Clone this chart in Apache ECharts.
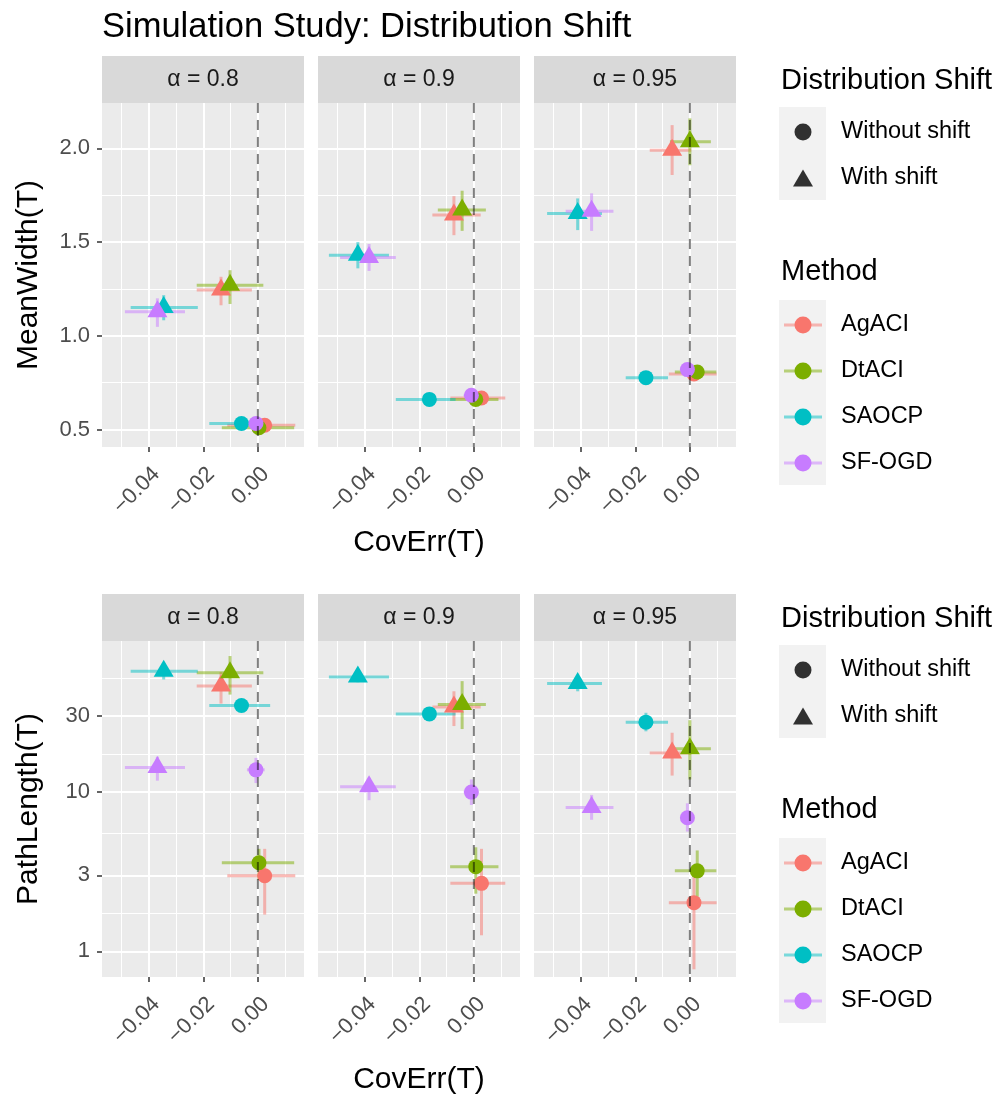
<!DOCTYPE html>
<html>
<head>
<meta charset="utf-8">
<script src="https://cdn.jsdelivr.net/npm/echarts@6/dist/echarts.min.js"></script>
<style>
  html, body { margin: 0; padding: 0; background: #fff; }
  #main { width: 1000px; height: 1099px; }
</style>
</head>
<body>
<div id="main"></div>
<script>
// --- data ---
var methods = ['AgACI', 'DtACI', 'SAOCP', 'SF-OGD'];
var colors = ['#F8766D', '#7CAE00', '#00BFC4', '#C77CFF'];
var alphas = ['0.8', '0.9', '0.95'];
var shifts = ['Without shift', 'With shift'];

// [alpha][method] -> [mean, lower, upper]
var covErrWithout = [
  [[0.0025, -0.0112, 0.0137], [0.0004, -0.0132, 0.0133], [-0.0060, -0.0178, 0.0045], [-0.0007, -0.0040, 0.0025]],
  [[0.0028, -0.0086, 0.0115], [0.0007, -0.0087, 0.0090], [-0.0163, -0.0286, -0.0067], [-0.0009, -0.0037, 0.0008]],
  [[0.0015, -0.0077, 0.0098], [0.0027, -0.0055, 0.0097], [-0.0161, -0.0235, -0.0080], [-0.0009, -0.0020, 0.0005]]
];
var covErrWith = [
  [[-0.0135, -0.0224, -0.0022], [-0.0102, -0.0224, 0.0020], [-0.0345, -0.0466, -0.0220], [-0.0368, -0.0487, -0.0267]],
  [[-0.0073, -0.0152, 0.0025], [-0.0043, -0.0132, 0.0044], [-0.0425, -0.0531, -0.0311], [-0.0384, -0.0490, -0.0286]],
  [[-0.0065, -0.0147, 0.0005], [0.0000, -0.0073, 0.0077], [-0.0411, -0.0523, -0.0322], [-0.0360, -0.0455, -0.0280]]
];
var widthWithout = [
  [[0.523, 0.515, 0.531], [0.510, 0.502, 0.518], [0.532, 0.525, 0.539], [0.532, 0.525, 0.539]],
  [[0.668, 0.660, 0.676], [0.661, 0.653, 0.669], [0.661, 0.654, 0.668], [0.683, 0.676, 0.690]],
  [[0.797, 0.789, 0.805], [0.807, 0.799, 0.815], [0.777, 0.770, 0.784], [0.820, 0.813, 0.827]]
];
var widthWith = [
  [[1.245, 1.163, 1.315], [1.270, 1.170, 1.350], [1.151, 1.083, 1.217], [1.128, 1.048, 1.200]],
  [[1.644, 1.537, 1.745], [1.671, 1.560, 1.774], [1.430, 1.360, 1.500], [1.418, 1.346, 1.490]],
  [[1.990, 1.858, 2.124], [2.035, 1.910, 2.160], [1.653, 1.564, 1.733], [1.665, 1.560, 1.760]]
];
var pathWithout = [
  [[2.98, 1.70, 4.4], [3.6, 2.8, 4.4], [35.0, 33.0, 37.0], [13.8, 11.4, 16.4]],
  [[2.67, 1.26, 4.4], [3.4, 2.3, 4.5], [31.0, 29.5, 32.5], [10.0, 8.3, 12.0]],
  [[2.02, 0.77, 3.3], [3.2, 2.2, 4.3], [27.5, 24.1, 31.5], [6.9, 5.65, 8.5]]
];
var pathWith = [
  [[46.4, 36.0, 56.8], [56.2, 41.0, 71.6], [57.5, 51.0, 63.0], [14.3, 11.8, 16.7]],
  [[34.3, 26.0, 43.0], [35.5, 24.9, 49.8], [52.9, 49.0, 57.0], [10.8, 8.9, 12.3]],
  [[17.6, 12.7, 23.6], [18.7, 12.0, 28.3], [48.2, 43.0, 52.0], [8.0, 6.7, 9.6]]
];

var covErrTicks = [-0.04, -0.02, 0];
var covErrMinor = [-0.05, -0.03, -0.01, 0.01];
var widthTicks = [0.5, 1.0, 1.5, 2.0];
var widthMinor = [0.75, 1.25, 1.75];
var pathTicks = [1, 3, 10, 30];
var pathMinor = [1.73, 5.48, 17.3, 52];

// --- layout ---
var font = '"Liberation Sans", Arial, Helvetica, sans-serif';
var colLeft = [102, 318, 534];
var panelW = 202;
var rowTop = [103, 641];
var rowH = [344, 336];
var stripH = 47;
var xRange = [-0.0571, 0.0169];
var rowRange = [[0.407, 2.242], [0.689, 89]];
var rowName = ['MeanWidth(T)', 'PathLength(T)'];
var rowTicks = [widthTicks, pathTicks];
var rowMinor = [widthMinor, pathMinor];
var rowWith = [widthWith, pathWith];
var rowWithout = [widthWithout, pathWithout];
var xNameGap = [81, 88];

var myChart = echarts.init(document.getElementById('main'), null, { renderer: 'canvas' });

function fmtCov(v) {
    if (Math.abs(v) < 1e-9) return '0.00';
    return (v < 0 ? '\u2212' : '') + Math.abs(v).toFixed(2);
}

function renderInterval(params, api) {
    var x = api.value(0), y = api.value(1);
    var h0 = api.coord([api.value(2), y]), h1 = api.coord([api.value(3), y]);
    var v0 = api.coord([x, api.value(4)]), v1 = api.coord([x, api.value(5)]);
    var st = { stroke: api.visual('color'), lineWidth: 3, opacity: 0.5 };
    return {
        type: 'group',
        children: [
            { type: 'line', shape: { x1: h0[0], y1: h0[1], x2: h1[0], y2: h1[1] }, style: st },
            { type: 'line', shape: { x1: v0[0], y1: v0[1], x2: v1[0], y2: v1[1] }, style: st }
        ]
    };
}

function renderZero(params, api) {
    var cs = params.coordSys;
    var x = api.coord([api.value(0), api.value(1)])[0];
    return {
        type: 'line',
        shape: { x1: x, y1: cs.y, x2: x, y2: cs.y + cs.height },
        style: { stroke: 'rgba(0,0,0,0.5)', lineWidth: 2, lineDash: [10, 7] }
    };
}

var grids = [], xAxes = [], yAxes = [], series = [], graphics = [];

for (var r = 0; r < 2; r++) {
    for (var c = 0; c < 3; c++) {
        var g = r * 3 + c;
        grids.push({
            left: colLeft[c], top: rowTop[r], width: panelW, height: rowH[r],
            show: true, backgroundColor: '#ebebeb', borderWidth: 0, containLabel: false,
            outerBoundsMode: 'none'
        });
        xAxes.push({
            type: 'value', gridIndex: g, min: xRange[0], max: xRange[1], position: 'bottom',
            name: c === 1 ? 'CovErr(T)' : '', nameLocation: 'middle', nameGap: xNameGap[r],
            nameTextStyle: { fontSize: 30, color: '#000', fontFamily: font },
            axisLine: { show: false, onZero: false },
            axisTick: { show: true, length: 5, customValues: covErrTicks, lineStyle: { color: '#333', width: 1.5 } },
            axisLabel: {
                show: true, customValues: covErrTicks, rotate: 45, align: 'right', verticalAlign: 'top',
                margin: 16, fontSize: 22, color: '#4d4d4d', fontFamily: font, formatter: fmtCov
            },
            splitLine: { show: true, lineStyle: { color: '#fff', width: 2 } }
        });
        var yAx = {
            type: r === 0 ? 'value' : 'log', gridIndex: g, min: rowRange[r][0], max: rowRange[r][1],
            position: 'left',
            name: c === 0 ? rowName[r] : '', nameLocation: 'middle', nameGap: 58,
            nameTextStyle: { fontSize: 30, color: '#000', fontFamily: font },
            axisLine: { show: false, onZero: false },
            axisTick: { show: c === 0, length: 5, customValues: rowTicks[r], lineStyle: { color: '#333', width: 1.5 } },
            axisLabel: {
                show: c === 0, customValues: rowTicks[r], margin: 12, fontSize: 22, color: '#4d4d4d', fontFamily: font,
                formatter: r === 0 ? function (v) { return v.toFixed(1); } : function (v) { return String(v); }
            },
            splitLine: { show: true, lineStyle: { color: '#fff', width: 2 } }
        };
        if (r === 1) yAx.logBase = 10;
        yAxes.push(yAx);

        // interval bars
        for (var k = 0; k < 4; k++) {
            var cw = covErrWithout[c][k], cs = covErrWith[c][k];
            var yw = rowWithout[r][c][k], ys = rowWith[r][c][k];
            series.push({
                type: 'custom', name: methods[k] + ' interval', xAxisIndex: g, yAxisIndex: g,
                z: 2, clip: true, silent: true,
                itemStyle: { color: colors[k] },
                renderItem: renderInterval,
                data: [
                    [cw[0], yw[0], cw[1], cw[2], yw[1], yw[2]],
                    [cs[0], ys[0], cs[1], cs[2], ys[1], ys[2]]
                ]
            });
        }
        // points
        for (var k2 = 0; k2 < 4; k2++) {
            var a = covErrWithout[c][k2], b = covErrWith[c][k2];
            series.push({
                type: 'scatter', name: methods[k2], xAxisIndex: g, yAxisIndex: g,
                z: 3, silent: true, symbol: 'circle', symbolSize: 15,
                itemStyle: { color: colors[k2], opacity: 1 },
                data: [
                    { value: [a[0], rowWithout[r][c][k2][0]], symbol: 'circle', symbolSize: 15 },
                    { value: [b[0], rowWith[r][c][k2][0]], symbol: 'triangle', symbolSize: [20, 17], symbolOffset: [0, -3] }
                ]
            });
        }
        // dashed zero line
        series.push({
            type: 'custom', name: 'zero', xAxisIndex: g, yAxisIndex: g, z: 5, silent: true,
            renderItem: renderZero, data: [[0, 1]]
        });

        // strip
        graphics.push({
            type: 'rect', silent: true, z: 0,
            shape: { x: colLeft[c], y: rowTop[r] - stripH, width: panelW, height: stripH },
            style: { fill: '#d9d9d9' }
        });
        graphics.push({
            type: 'text', silent: true, z: 1,
            x: colLeft[c] + panelW / 2, y: rowTop[r] - stripH / 2,
            style: {
                text: '\u03b1 = ' + alphas[c], fill: '#1a1a1a', font: '23px ' + font,
                align: 'center', verticalAlign: 'middle', textAlign: 'center', textVerticalAlign: 'middle'
            }
        });
    }
}

// minor grid helper axes
for (var r2 = 0; r2 < 2; r2++) {
    for (var c2 = 0; c2 < 3; c2++) {
        var g2 = r2 * 3 + c2;
        xAxes.push({
            type: 'value', gridIndex: g2, min: xRange[0], max: xRange[1], position: 'bottom',
            axisLine: { show: false, onZero: false }, axisLabel: { show: false },
            axisTick: { show: false, customValues: covErrMinor },
            splitLine: { show: true, lineStyle: { color: '#fff', width: 1 } }
        });
        var hy = {
            type: r2 === 0 ? 'value' : 'log', gridIndex: g2, min: rowRange[r2][0], max: rowRange[r2][1],
            position: 'left',
            axisLine: { show: false, onZero: false }, axisLabel: { show: false },
            axisTick: { show: false, customValues: rowMinor[r2] },
            splitLine: { show: true, lineStyle: { color: '#fff', width: 1 } }
        };
        if (r2 === 1) hy.logBase = 10;
        yAxes.push(hy);
    }
}

// dummy series so the shape legend has entries
series.push({ type: 'scatter', name: shifts[0], xAxisIndex: 0, yAxisIndex: 0, itemStyle: { color: '#000' }, data: [] });
series.push({ type: 'scatter', name: shifts[1], xAxisIndex: 0, yAxisIndex: 0, itemStyle: { color: '#000' }, data: [] });

// legends (one block per row); a legend's "left" is where its leftmost drawn icon begins
var legends = [];
var legendOffsets = [0, 538];
var triIcon = 'path://M0,17 L10,0 L20,17 Z';
var barIcon = 'path://M0,0 L38,0 L38,3 L0,3 Z';
var legendText = { fontSize: 23.5, color: '#000', fontFamily: font };
var hiddenText = { fontSize: 23.5, color: 'rgba(0,0,0,0)', fontFamily: font };
legendOffsets.forEach(function (off) {
    legends.push({
        orient: 'vertical', left: 793, top: 120 + off, itemWidth: 66, itemHeight: 17, itemGap: 22,
        selectedMode: false, padding: 0, z: 4,
        data: [{ name: shifts[0], icon: 'circle' }, { name: shifts[1], icon: triIcon }],
        textStyle: legendText
    });
    // line part of the method keys
    legends.push({
        orient: 'vertical', left: 784, top: 313 + off, itemWidth: 38, itemHeight: 17, itemGap: 22,
        selectedMode: false, padding: 0, z: 3,
        data: methods.map(function (m) { return { name: m, icon: barIcon, itemStyle: { opacity: 0.5 } }; }),
        textStyle: hiddenText
    });
    // point part of the method keys, with the labels
    legends.push({
        orient: 'vertical', left: 794.5, top: 313 + off, itemWidth: 66, itemHeight: 17, itemGap: 22,
        selectedMode: false, padding: 0, z: 4,
        data: methods.map(function (m) { return { name: m, icon: 'circle' }; }),
        textStyle: legendText
    });
    graphics.push({ type: 'rect', silent: true, z: 0, shape: { x: 779, y: 107 + off, width: 47, height: 93 }, style: { fill: '#f2f2f2' } });
    graphics.push({ type: 'rect', silent: true, z: 0, shape: { x: 779, y: 300 + off, width: 47, height: 185 }, style: { fill: '#f2f2f2' } });
    graphics.push({
        type: 'text', silent: true, x: 781, y: 81 + off,
        style: { text: 'Distribution Shift', fill: '#000', font: '29px ' + font, verticalAlign: 'middle', textVerticalAlign: 'middle' }
    });
    graphics.push({
        type: 'text', silent: true, x: 781, y: 272 + off,
        style: { text: 'Method', fill: '#000', font: '29px ' + font, verticalAlign: 'middle', textVerticalAlign: 'middle' }
    });
});

var option = {
    animation: false,
    backgroundColor: '#ffffff',
    title: {
        text: 'Simulation Study: Distribution Shift', left: 102, top: 10, padding: 0,
        textStyle: { fontSize: 34.5, fontWeight: 'normal', color: '#000', fontFamily: font }
    },
    grid: grids,
    xAxis: xAxes,
    yAxis: yAxes,
    legend: legends,
    graphic: graphics,
    series: series
};
myChart.setOption(option);
</script>
</body>
</html>
